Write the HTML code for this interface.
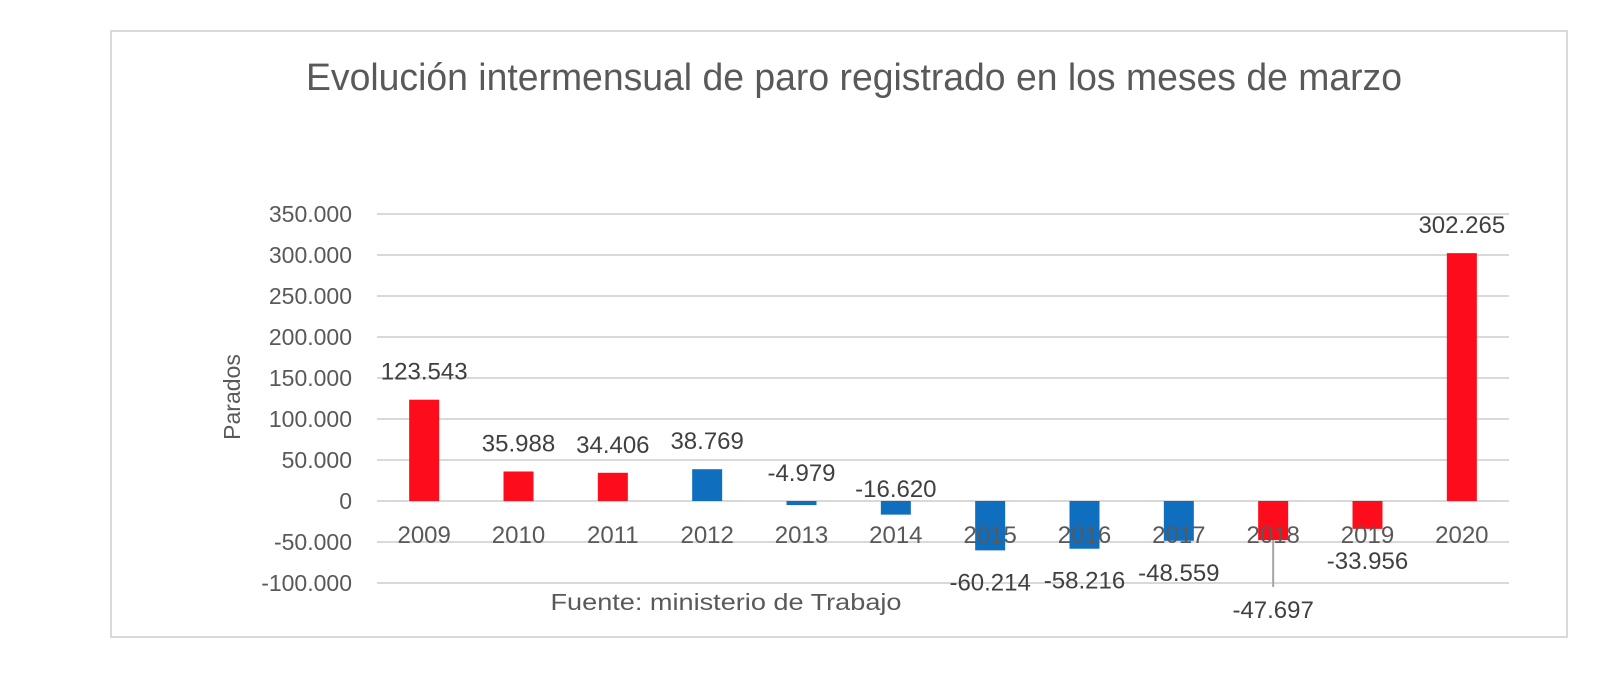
<!DOCTYPE html>
<html><head><meta charset="utf-8"><style>
html,body{margin:0;padding:0;background:#fff;}
svg{display:block;font-family:"Liberation Sans",sans-serif;}
</style></head><body>
<svg id="chart" width="1600" height="678" viewBox="0 0 1600 678" xmlns="http://www.w3.org/2000/svg">
<rect x="111" y="31" width="1456" height="606" fill="#fff" stroke="#d9d9d9" stroke-width="2"/>
<text x="854" y="90" text-anchor="middle" font-size="38" fill="#595959" textLength="1096" lengthAdjust="spacingAndGlyphs">Evolución intermensual de paro registrado en los meses de marzo</text>
<text transform="translate(240,397) rotate(-90)" text-anchor="middle" font-size="23" fill="#595959">Parados</text>
<g id="grid"></g><g id="bars"></g><g id="labels"></g>
<text x="726" y="610" text-anchor="middle" font-size="23" fill="#595959" textLength="351" lengthAdjust="spacingAndGlyphs">Fuente: ministerio de Trabajo</text>
</svg>
<script>
const categories = ["2009","2010","2011","2012","2013","2014","2015","2016","2017","2018","2019","2020"];
const values = [123543,35988,34406,38769,-4979,-16620,-60214,-58216,-48559,-47697,-33956,302265];
const valueLabels = ["123.543","35.988","34.406","38.769","-4.979","-16.620","-60.214","-58.216","-48.559","-47.697","-33.956","302.265"];
const colors = ["red","red","red","blue","blue","blue","blue","blue","blue","red","red","red"];
const yTicks = [350000,300000,250000,200000,150000,100000,50000,0,-50000,-100000];
const yTickLabels = ["350.000","300.000","250.000","200.000","150.000","100.000","50.000","0","-50.000","-100.000"];

const NS="http://www.w3.org/2000/svg";
const plotL=377, plotR=1509, y0=501, pxPer=287/350000;
const band=(plotR-plotL)/categories.length;
const x=i=>plotL+band*(i+0.5);
const y=v=>y0-v*pxPer;
const fill={red:"#fd0d1b",blue:"#0f6fbe"};
function mk(tag,attrs,parent,text){const e=document.createElementNS(NS,tag);for(const k in attrs)e.setAttribute(k,attrs[k]);if(text!==undefined)e.textContent=text;parent.appendChild(e);return e;}
const grid=document.getElementById('grid'),bars=document.getElementById('bars'),labels=document.getElementById('labels');
yTicks.forEach((t,i)=>{
  const l=mk('line',{x1:plotL,x2:plotR,y1:y(t),y2:y(t),stroke:'#d9d9d9','stroke-width':2},grid);
  
  
  const tx=mk('text',{x:352,y:y(t)+8,'text-anchor':'end','font-size':23,fill:'#595959'},grid,yTickLabels[i]);
  
  
});
categories.forEach((c,i)=>{
  const v=values[i];
  const top=Math.min(y(v),y0), h=Math.abs(y(v)-y0);
  const r=mk('rect',{x:x(i)-15,y:top,width:30,height:Math.max(h,1),fill:fill[colors[i]]},bars);
  
  
  const cl=mk('text',{x:x(i),y:543,'text-anchor':'middle','font-size':24,fill:'#595959'},labels,c);
  
  
  let ly;
  if(v>=0) ly=y(v)-20;
  else if(v>-20000) ly=y0-20+ (v<-10000?16:0);
  else ly=y(v)+40;
  if(c==="2018"){ly=618;mk('line',{x1:x(i),x2:x(i),y1:y(v),y2:587,stroke:'#a6a6a6','stroke-width':2},labels);}
  if(c==="2019")ly=569;
  const dl=mk('text',{x:x(i),y:ly,'text-anchor':'middle','font-size':24,fill:'#404040'},labels,valueLabels[i]);
  
  
});
</script>
</body></html>
